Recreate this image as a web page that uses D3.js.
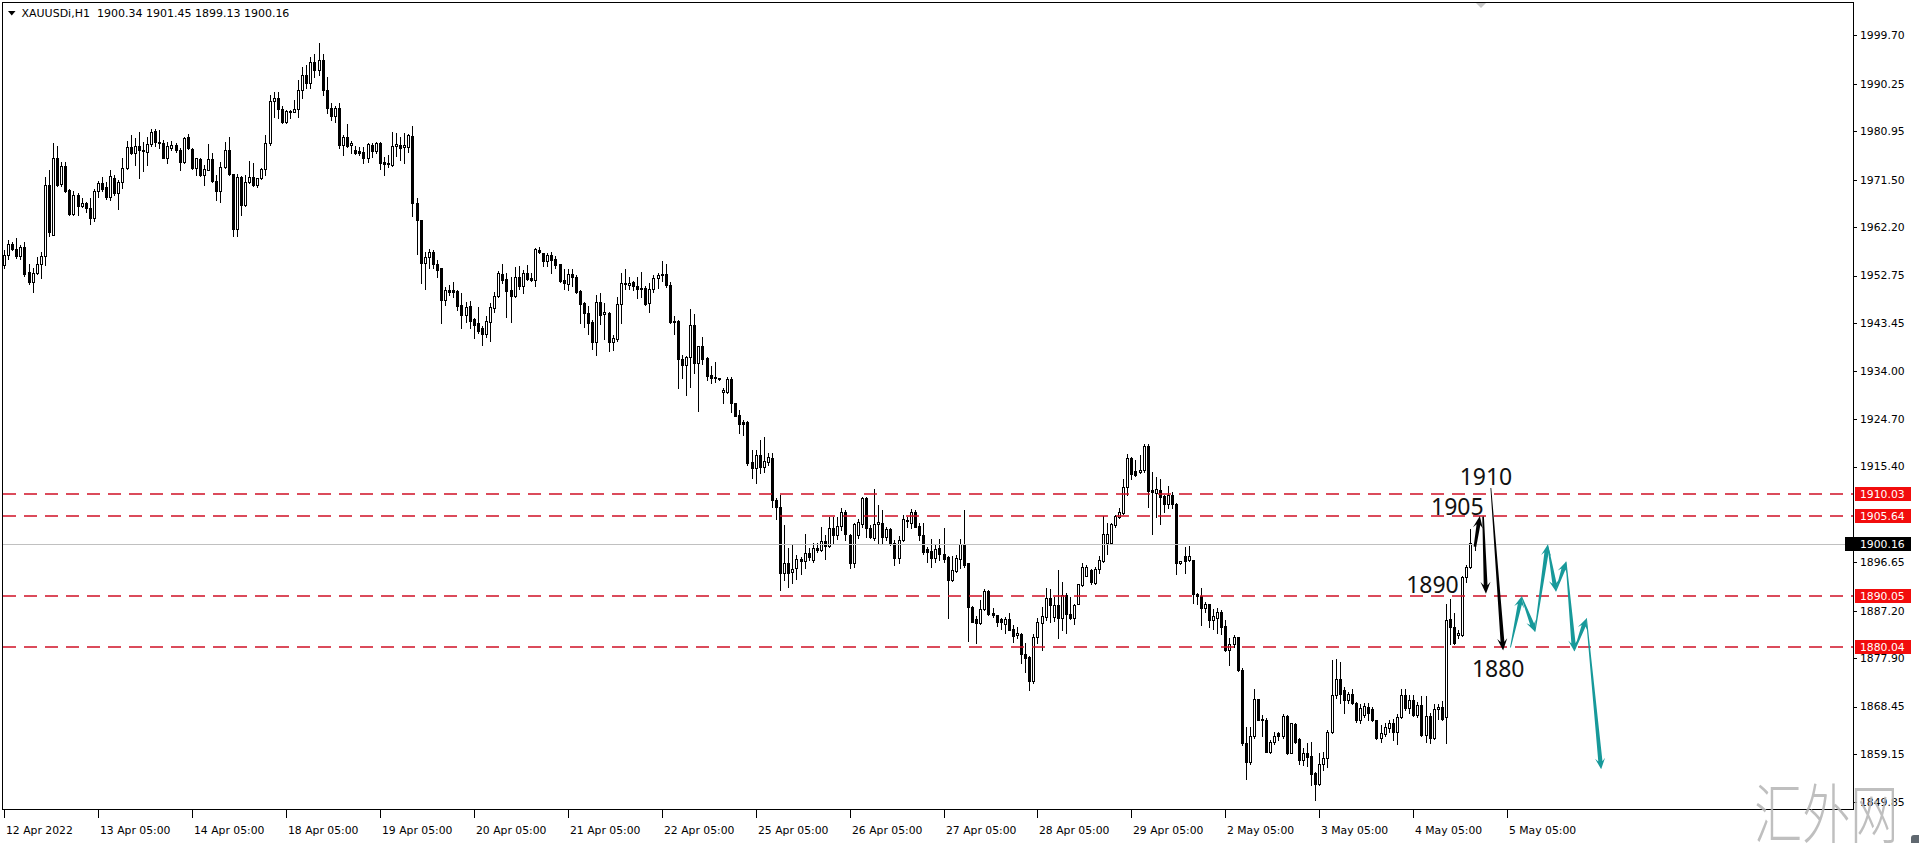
<!DOCTYPE html>
<html><head><meta charset="utf-8">
<script src="https://cdn.jsdelivr.net/npm/d3@7"></script>
<style>html,body{margin:0;padding:0;background:#fff;overflow:hidden}</style>
</head><body>
<svg id="c" width="1919" height="843"></svg>
<script>
// ---- H1 candles (XAUUSDi) ----
const opens=[
1954.8,1956.8,1959.0,1957.9,1956.5,1958.3,1953.4,1951.4,1953.2,1955.1,
1956.6,1970.5,1960.7,1975.7,1970.6,1974.2,1969.5,1964.8,1968.6,1966.4,
1966.9,1965.9,1964.1,1969.2,1970.8,1970.1,1968.2,1971.9,1968.8,1971.0,
1973.7,1977.9,1976.7,1978.0,1977.4,1977.0,1978.4,1981.0,1978.9,1978.6,
1975.8,1977.6,1978.3,1977.3,1974.9,1979.8,1977.5,1973.7,1975.5,1972.4,
1973.4,1975.5,1971.2,1969.2,1974.0,1977.3,1972.6,1961.9,1972.1,1966.5,
1971.1,1972.0,1970.5,1971.8,1973.5,1978.6,1986.9,1987.4,1985.3,1982.7,
1984.9,1984.7,1985.3,1989.0,1992.0,1990.5,1994.5,1993.0,1995.0,1989.0,
1985.5,1984.0,1985.5,1978.3,1979.9,1978.3,1977.3,1977.1,1977.0,1975.8,
1978.3,1977.2,1978.7,1975.0,1974.8,1974.4,1978.0,1978.2,1977.8,1977.8,
1980.0,1967.0,1963.7,1955.3,1956.4,1957.4,1955.1,1954.2,1948.0,1949.9,
1949.9,1949.7,1947.0,1945.0,1946.8,1944.2,1943.4,1942.4,1941.3,1943.7,
1946.5,1948.7,1953.0,1952.0,1949.9,1948.7,1952.4,1950.7,1953.2,1952.2,
1951.9,1957.8,1957.1,1955.5,1956.8,1955.9,1955.0,1951.9,1951.1,1953.0,
1952.5,1949.8,1947.3,1945.5,1943.7,1939.8,1947.6,1945.2,1945.4,1939.8,
1940.3,1947.2,1951.2,1950.9,1951.4,1950.7,1950.1,1950.4,1947.3,1950.2,
1952.2,1952.9,1953.0,1950.9,1943.9,1943.9,1936.4,1935.3,1936.9,1943.1,
1935.7,1939.0,1936.6,1933.3,1933.0,1932.7,1929.9,1930.0,1932.6,1927.8,
1925.5,1924.2,1924.2,1916.3,1915.2,1917.6,1915.4,1916.3,1917.0,1908.8,
1907.5,1894.5,1896.6,1894.8,1895.5,1897.4,1897.0,1898.4,1897.1,1899.4,
1899.1,1900.9,1899.9,1903.3,1902.0,1903.8,1906.6,1902.0,1896.5,1902.0,
1904.2,1909.2,1903.3,1901.4,1904.2,1904.4,1901.6,1903.1,1900.4,1897.6,
1901.0,1904.8,1904.3,1906.6,1903.7,1902.0,1899.2,1898.9,1897.6,1899.4,
1898.3,1897.7,1893.2,1895.0,1897.4,1900.2,1896.5,1888.0,1885.5,1884.7,
1887.5,1891.1,1886.7,1886.4,1885.5,1884.6,1885.5,1883.7,1882.4,1882.6,
1878.7,1878.2,1873.5,1882.0,1884.7,1886.0,1889.6,1886.0,1888.3,1885.7,
1890.3,1886.6,1885.7,1888.6,1892.2,1894.0,1895.2,1892.7,1895.3,1897.0,
1900.4,1900.5,1904.0,1905.5,1906.4,1911.3,1917.0,1914.6,1914.4,1914.7,
1919.4,1910.9,1910.2,1910.9,1909.6,1908.1,1909.8,1908.1,1896.5,1897.9,
1897.1,1897.1,1890.4,1890.1,1887.7,1888.5,1885.4,1885.7,1887.0,1884.2,
1879.5,1880.7,1882.0,1875.7,1861.3,1857.7,1862.6,1869.9,1866.1,1865.9,
1859.6,1861.6,1863.3,1862.7,1866.6,1859.4,1865.1,1862.2,1858.1,1859.3,
1858.8,1855.5,1853.3,1857.3,1858.3,1863.5,1870.7,1873.9,1871.7,1869.7,
1871.0,1869.2,1865.9,1866.8,1868.4,1867.9,1865.8,1862.4,1863.1,1864.2,
1865.3,1863.5,1866.5,1870.7,1868.1,1869.7,1866.8,1868.7,1862.9,1866.6,
1862.4,1867.9,1868.4,1866.5,1885.5,1884.1,1882.4,1882.4,1893.7,1895.7,1900.34];
const highs=[
1957.8,1959.7,1959.4,1960.0,1958.8,1959.4,1955.1,1954.2,1956.4,1957.3,
1972.1,1973.4,1978.6,1978.0,1975.0,1975.0,1969.7,1969.2,1968.8,1967.9,
1967.2,1967.9,1969.7,1971.2,1972.1,1971.1,1973.4,1972.4,1971.4,1975.7,
1979.1,1980.2,1979.6,1980.8,1978.9,1979.9,1981.5,1981.5,1981.3,1979.3,
1978.9,1979.1,1978.6,1977.6,1979.9,1980.5,1977.6,1975.8,1975.7,1974.4,
1978.5,1976.7,1972.4,1975.0,1978.9,1979.9,1972.7,1972.7,1972.3,1972.4,
1975.2,1974.7,1971.9,1973.7,1980.2,1988.1,1988.7,1988.6,1986.0,1985.1,
1985.1,1987.1,1991.0,1993.5,1994.0,1995.5,1996.0,1998.3,1996.0,1991.5,
1986.5,1986.0,1986.5,1980.2,1982.4,1979.1,1978.0,1977.8,1977.9,1978.7,
1978.6,1978.9,1978.9,1976.0,1976.3,1980.9,1980.7,1979.8,1980.7,1980.4,
1982.0,1968.0,1963.7,1957.4,1958.0,1957.7,1955.8,1954.2,1950.6,1950.9,
1951.5,1950.0,1949.3,1947.6,1947.8,1944.4,1946.6,1942.8,1944.8,1947.3,
1949.6,1953.7,1955.1,1953.2,1952.5,1954.5,1954.6,1953.8,1954.8,1953.2,
1958.1,1958.4,1957.2,1957.2,1957.4,1956.6,1955.1,1954.0,1954.0,1954.0,
1952.9,1949.9,1947.6,1946.7,1944.0,1948.9,1949.4,1947.3,1945.7,1941.1,
1948.6,1953.2,1954.0,1952.5,1951.6,1952.5,1953.5,1950.7,1951.2,1952.9,
1953.2,1955.5,1955.0,1951.4,1944.8,1944.0,1937.2,1937.0,1946.3,1945.2,
1939.0,1940.7,1936.8,1935.1,1935.9,1932.8,1930.7,1933.0,1933.0,1927.9,
1926.5,1924.5,1924.4,1918.6,1918.6,1920.6,1921.1,1918.0,1918.0,1909.2,
1909.8,1903.9,1899.4,1900.0,1898.1,1897.7,1902.3,1899.4,1900.4,1900.4,
1903.6,1902.0,1905.6,1905.6,1905.6,1907.2,1906.9,1902.2,1904.4,1905.1,
1909.5,1909.4,1903.9,1911.1,1907.9,1906.9,1903.6,1903.3,1901.0,1901.8,
1905.9,1905.5,1907.0,1906.9,1904.4,1904.4,1899.7,1901.2,1900.0,1901.3,
1903.3,1897.9,1897.9,1898.1,1901.2,1906.8,1896.6,1888.1,1886.2,1889.2,
1891.4,1891.2,1887.7,1886.4,1885.7,1885.9,1886.7,1884.4,1884.0,1882.8,
1880.8,1878.3,1882.6,1885.7,1887.9,1891.6,1891.4,1889.9,1895.2,1892.9,
1890.6,1889.9,1888.6,1892.5,1896.5,1896.1,1895.3,1895.8,1897.9,1905.7,
1904.3,1904.4,1905.9,1907.2,1912.9,1917.8,1917.3,1916.7,1917.6,1919.8,
1919.8,1914.4,1913.4,1912.9,1909.8,1911.6,1910.5,1908.2,1897.0,1899.6,
1899.8,1897.2,1890.6,1891.6,1889.0,1888.6,1887.5,1887.7,1887.3,1885.4,
1881.8,1882.4,1882.1,1875.9,1864.4,1864.5,1871.8,1870.0,1866.8,1866.3,
1861.9,1863.5,1863.5,1867.0,1866.8,1865.3,1865.2,1862.4,1860.3,1861.3,
1861.6,1855.7,1859.4,1859.6,1863.9,1877.6,1877.7,1877.2,1872.3,1871.3,
1871.8,1869.4,1868.9,1869.2,1869.2,1868.3,1865.9,1864.8,1865.2,1865.9,
1866.1,1867.0,1871.8,1871.8,1870.7,1870.7,1869.4,1870.5,1870.5,1867.1,
1868.9,1868.9,1869.6,1888.6,1889.4,1886.7,1883.5,1893.9,1896.1,1903.1,1901.45];
const lows=[
1954.2,1956.0,1957.7,1956.1,1956.0,1952.7,1951.0,1949.6,1953.0,1952.3,
1954.8,1960.4,1960.7,1970.3,1970.3,1969.0,1964.6,1964.6,1964.5,1966.2,
1965.2,1962.8,1963.4,1968.2,1969.2,1967.7,1967.5,1968.5,1965.8,1969.9,
1973.6,1976.5,1974.4,1971.8,1973.1,1974.4,1978.0,1978.0,1977.6,1975.7,
1974.7,1977.3,1977.0,1973.4,1974.7,1977.5,1973.5,1972.5,1972.2,1970.5,
1973.4,1971.1,1967.5,1967.2,1973.8,1972.5,1960.4,1960.4,1964.6,1966.4,
1970.8,1970.3,1970.1,1971.6,1972.5,1978.3,1983.8,1983.5,1982.5,1982.5,
1983.5,1984.7,1983.7,1987.5,1989.5,1989.5,1991.5,1992.0,1988.0,1984.5,
1983.2,1982.7,1977.6,1976.3,1977.9,1976.7,1976.6,1976.3,1974.7,1975.0,
1976.0,1976.7,1973.5,1972.5,1973.9,1974.2,1976.1,1975.4,1974.7,1977.0,
1964.4,1956.9,1951.2,1950.2,1954.3,1954.2,1952.5,1943.4,1947.0,1948.9,
1948.6,1946.0,1942.4,1943.7,1942.4,1940.5,1941.6,1939.2,1940.8,1940.0,
1945.7,1948.6,1951.2,1944.6,1943.7,1948.6,1950.2,1949.3,1951.9,1951.7,
1950.7,1957.1,1954.6,1954.6,1953.3,1954.2,1951.4,1950.2,1949.9,1950.7,
1949.4,1943.4,1942.6,1941.4,1938.3,1937.2,1943.3,1940.3,1937.9,1938.2,
1940.0,1943.4,1950.1,1950.1,1949.9,1948.4,1948.6,1947.0,1945.7,1949.6,
1950.4,1951.6,1950.6,1943.5,1941.3,1930.7,1932.7,1929.4,1931.0,1933.6,
1926.3,1935.5,1932.3,1931.7,1932.0,1932.3,1927.9,1929.7,1926.1,1925.2,
1921.9,1921.6,1915.7,1913.1,1912.1,1914.2,1914.4,1915.7,1907.5,1905.1,
1891.2,1893.2,1891.8,1892.6,1893.5,1894.4,1895.5,1897.1,1896.8,1898.6,
1898.9,1897.4,1899.6,1900.4,1901.2,1903.0,1901.0,1895.5,1895.8,1901.5,
1903.6,1901.7,1901.5,1901.0,1900.4,1900.2,1901.0,1900.0,1896.1,1896.5,
1900.9,1903.6,1903.3,1903.5,1901.0,1898.3,1896.8,1895.8,1896.8,1897.2,
1896.8,1885.7,1893.1,1894.8,1895.5,1895.7,1881.3,1885.0,1880.9,1884.6,
1887.3,1886.4,1885.9,1884.2,1883.7,1882.8,1883.4,1881.1,1881.8,1876.9,
1875.3,1871.7,1873.0,1880.8,1879.6,1885.4,1885.0,1885.2,1881.8,1883.4,
1882.9,1885.5,1884.6,1888.5,1892.1,1893.9,1892.5,1892.5,1894.6,1896.8,
1898.3,1900.2,1903.6,1905.3,1906.2,1909.8,1912.9,1913.5,1914.2,1914.4,
1907.5,1902.3,1905.6,1904.2,1906.6,1907.2,1907.2,1894.4,1896.3,1894.5,
1897.0,1888.8,1888.6,1884.4,1887.0,1884.1,1883.7,1882.8,1882.6,1879.4,
1876.6,1880.2,1875.5,1860.9,1854.2,1857.3,1862.4,1865.9,1862.6,1859.6,
1859.4,1861.1,1861.9,1862.4,1859.2,1859.3,1861.4,1857.3,1857.0,1856.8,
1853.1,1850.2,1853.1,1856.0,1856.7,1863.2,1870.2,1869.1,1867.1,1869.2,
1868.9,1865.5,1865.2,1866.5,1865.8,1865.7,1862.2,1861.6,1862.6,1863.5,
1862.0,1861.1,1866.3,1867.8,1867.1,1866.6,1866.5,1862.7,1861.6,1861.3,
1862.2,1866.1,1865.8,1861.3,1880.7,1880.7,1881.8,1882.2,1892.9,1895.5,1899.13];
const closes=[
1956.8,1959.0,1957.9,1956.5,1958.3,1953.0,1951.4,1953.2,1955.1,1956.6,
1970.5,1961.3,1975.8,1970.5,1974.2,1969.3,1964.8,1968.6,1966.4,1966.9,
1965.9,1964.1,1969.3,1970.8,1969.7,1968.2,1972.2,1968.8,1971.1,1973.7,
1977.9,1976.7,1978.0,1977.4,1977.2,1978.4,1980.9,1978.9,1978.6,1975.8,
1978.0,1978.3,1977.3,1974.9,1979.7,1977.6,1973.7,1975.7,1972.4,1973.5,
1975.5,1971.2,1969.2,1974.0,1977.3,1972.6,1961.9,1972.1,1966.5,1971.1,
1972.0,1970.5,1971.8,1973.5,1978.6,1986.9,1987.4,1985.3,1982.7,1984.9,
1984.7,1985.3,1989.0,1992.0,1990.5,1994.5,1993.0,1995.0,1989.0,1985.5,
1984.0,1985.5,1978.3,1979.9,1978.1,1978.7,1976.8,1976.7,1975.8,1978.4,
1977.2,1978.7,1974.8,1974.6,1974.6,1978.1,1978.4,1977.6,1978.3,1980.2,
1967.0,1963.6,1955.3,1956.4,1957.4,1955.1,1953.9,1948.0,1950.0,1949.6,
1949.6,1946.8,1945.0,1946.6,1943.9,1943.1,1942.0,1941.3,1943.9,1946.6,
1948.7,1953.2,1951.9,1949.8,1948.7,1952.4,1950.7,1953.3,1952.0,1951.9,
1957.9,1957.4,1955.5,1956.8,1955.8,1954.8,1951.6,1951.2,1953.0,1952.5,
1949.6,1947.2,1945.4,1943.5,1939.8,1947.6,1945.0,1945.7,1939.8,1940.5,
1947.2,1951.2,1951.0,1951.2,1950.8,1950.1,1950.4,1947.2,1950.2,1952.2,
1952.9,1953.0,1950.9,1943.7,1943.7,1936.4,1935.3,1936.9,1943.1,1935.7,
1939.0,1936.4,1933.1,1932.7,1932.7,1932.6,1930.3,1932.6,1927.8,1925.3,
1923.8,1923.8,1916.0,1915.2,1917.6,1915.4,1916.5,1917.3,1908.8,1907.4,
1894.5,1896.6,1894.6,1895.4,1897.4,1897.0,1898.4,1897.8,1899.4,1899.1,
1900.9,1899.9,1903.3,1902.0,1903.8,1906.6,1902.3,1896.5,1904.2,1904.6,
1909.2,1903.3,1901.6,1904.2,1904.6,1901.7,1903.1,1900.2,1897.6,1901.0,
1905.1,1905.0,1906.6,1903.6,1902.0,1898.7,1898.7,1897.6,1899.2,1898.3,
1897.4,1893.2,1895.2,1897.6,1900.2,1896.1,1887.9,1885.0,1884.7,1887.5,
1891.1,1886.5,1886.4,1884.9,1884.9,1885.5,1883.5,1882.2,1882.9,1878.7,
1877.9,1873.5,1882.1,1884.9,1886.2,1889.6,1888.3,1888.3,1885.7,1890.3,
1886.6,1885.7,1888.3,1892.4,1895.8,1895.8,1892.9,1895.3,1897.1,1902.3,
1902.3,1904.2,1905.7,1906.6,1911.3,1917.0,1913.9,1913.7,1914.8,1919.4,
1910.7,1910.5,1911.1,1909.5,1908.1,1909.8,1908.1,1896.5,1897.0,1897.0,
1897.9,1890.4,1890.0,1887.7,1888.5,1885.4,1886.2,1887.0,1884.1,1879.5,
1880.7,1882.0,1875.6,1861.3,1857.7,1862.7,1869.9,1865.9,1865.9,1859.6,
1861.6,1862.7,1862.7,1866.6,1859.4,1865.2,1861.6,1858.1,1859.4,1858.6,
1855.2,1853.3,1857.3,1858.3,1863.5,1870.7,1873.9,1871.0,1869.7,1871.0,
1869.2,1865.9,1868.1,1868.6,1867.1,1865.8,1862.4,1863.2,1864.5,1865.3,
1863.5,1866.5,1870.7,1868.1,1869.7,1866.8,1868.7,1862.9,1866.6,1862.4,
1867.9,1868.4,1866.0,1885.4,1884.1,1880.9,1882.9,1893.8,1895.7,1900.4,1900.16];

// ---- axes ----
const dateTickBars=[0,23,46,69,92,115,138,161,184,207,230,253,276,299,322,345,368];
const dateLabels=["12 Apr 2022","13 Apr 05:00","14 Apr 05:00","18 Apr 05:00","19 Apr 05:00","20 Apr 05:00","21 Apr 05:00","22 Apr 05:00","25 Apr 05:00","26 Apr 05:00","27 Apr 05:00","28 Apr 05:00","29 Apr 05:00","2 May 05:00","3 May 05:00","4 May 05:00","5 May 05:00"];
const priceTicks=[1999.70,1990.25,1980.95,1971.50,1962.20,1952.75,1943.45,1934.00,1924.70,1915.40,1896.65,1887.20,1877.90,1868.45,1859.15,1849.85];

// ---- levels & annotations ----
const levels=[1910.03,1905.64,1890.05,1880.04];
const bidPrice=1900.16;
const headerText="XAUUSDi,H1  1900.34 1901.45 1899.13 1900.16";
const blackArrowFrom=[[360.1,1899.7],[362.1,1905.6],[364.0,1911.2]];
const blackArrowTo  =[[361.3,1905.7],[362.8,1890.5],[367.0,1879.4]];
const tealBars  =[368.8,371.5,374.8,377.9,379.9,382.4,384.4,387.4,391.0];
const tealPrices=[1880.0,1890.0,1883.1,1900.1,1891.0,1896.8,1879.3,1885.7,1856.2];
const noteTexts=["1910","1905","1890","1880"];
const noteBars=[362.8,355.8,349.7,365.8];
const notePrices=[1911.8,1905.9,1890.7,1874.3];

const svg=d3.select("#c");
const L=2.5,T=2.5,R=1853.5,B=809.5;
const x=d3.scaleLinear().domain([0,368]).range([4,1507.2]);
const y=d3.scaleLinear().domain([1848.42,2006.25]).range([809,2]);
const AX="'DejaVu Sans', Verdana, sans-serif";

const plot=svg.append("g");
// candles
const idx=d3.range(closes.length);
const cg=plot.append("g").attr("shape-rendering","crispEdges");
cg.selectAll("line.wick").data(idx).join("line").attr("class","wick")
  .attr("x1",i=>Math.round(x(i))+0.5).attr("x2",i=>Math.round(x(i))+0.5)
  .attr("y1",i=>Math.round(y(highs[i]))).attr("y2",i=>Math.round(y(lows[i]))+1)
  .attr("stroke","#000").attr("stroke-width",1);
cg.selectAll("rect.body").data(idx).join("rect").attr("class","body")
  .each(function(i){
    const cx=Math.round(x(i));
    const t=Math.round(y(Math.max(opens[i],closes[i])));
    const b=Math.round(y(Math.min(opens[i],closes[i])));
    const s=d3.select(this);
    if(closes[i]>=opens[i]){
      s.attr("x",cx-0.5).attr("y",t+0.5).attr("width",2).attr("height",Math.max(0,b-t))
       .attr("fill","#fff").attr("stroke","#000").attr("stroke-width",1);
    } else {
      s.attr("x",cx-1).attr("y",t).attr("width",3).attr("height",Math.max(1,b-t+1))
       .attr("fill","#000");
    }
  });

// bid line
plot.append("line").attr("class","bid").attr("x1",3).attr("x2",1845)
  .attr("y1",Math.round(y(bidPrice))+0.5).attr("y2",Math.round(y(bidPrice))+0.5)
  .attr("stroke","#c0c0c0").attr("stroke-width",1).attr("shape-rendering","crispEdges");
// level lines (red dashed)
plot.selectAll("line.lv").data(levels).join("line").attr("class","lv")
  .attr("x1",3).attr("x2",R)
  .attr("y1",d=>Math.round(y(d))).attr("y2",d=>Math.round(y(d)))
  .attr("stroke","#cf1126").attr("stroke-width",1.4).attr("stroke-dasharray","13,8");

// arrows
function arrowPoly(x0,y0,x1,y1,w0,w1,hl,hw){
  const dx=x1-x0,dy=y1-y0,len=Math.hypot(dx,dy),ux=dx/len,uy=dy/len,nx=-uy,ny=ux;
  const bx=x1-ux*hl*0.72,by=y1-uy*hl*0.72, cx=x1-ux*hl,cy=y1-uy*hl;
  return [[x0+nx*w0/2,y0+ny*w0/2],[bx+nx*w1/2,by+ny*w1/2],[cx+nx*hw/2,cy+ny*hw/2],[x1,y1],
          [cx-nx*hw/2,cy-ny*hw/2],[bx-nx*w1/2,by-ny*w1/2],[x0-nx*w0/2,y0-ny*w0/2]];
}
const lineGen=d3.line();
const blackW0=[2.6,1.6,0.8];
blackArrowFrom.forEach((p,k)=>{
  const q=blackArrowTo[k];
  plot.append("path").attr("d",lineGen(arrowPoly(x(p[0]),y(p[1]),x(q[0]),y(q[1]),blackW0[k],3.8,12,10))+"Z")
    .attr("fill","#000");
});
for(let k=0;k<tealBars.length-1;k++){
  plot.append("path").attr("d",lineGen(arrowPoly(x(tealBars[k]),y(tealPrices[k]),x(tealBars[k+1]),y(tealPrices[k+1]),0.9,4.2,11,10))+"Z")
    .attr("fill","#17999a");
}
// note labels
plot.selectAll("text.note").data(noteTexts).join("text").attr("class","note")
  .attr("x",(d,i)=>x(noteBars[i])).attr("y",(d,i)=>y(notePrices[i]))
  .attr("text-anchor","middle").attr("font-family","'Noto Sans', 'Open Sans', sans-serif")
  .attr("font-size",23).attr("fill","#111").text(d=>d);

// frame
svg.append("rect").attr("x",L).attr("y",T).attr("width",R-L).attr("height",B-T)
  .attr("fill","none").attr("stroke","#000").attr("stroke-width",1).attr("shape-rendering","crispEdges");

// right axis ticks & labels
const ax=svg.append("g");
ax.selectAll("line.pt").data(priceTicks).join("line").attr("class","pt")
  .attr("x1",1853).attr("x2",1857).attr("y1",d=>Math.round(y(d))+0.5).attr("y2",d=>Math.round(y(d))+0.5)
  .attr("stroke","#000").attr("shape-rendering","crispEdges");
ax.selectAll("text.pt").data(priceTicks).join("text").attr("class","pt")
  .attr("x",1860).attr("y",d=>y(d)).attr("dy","0.36em")
  .attr("font-family",AX).attr("font-size",10.8).attr("fill","#000").text(d=>d.toFixed(2));
// level boxes
levels.forEach(v=>{
  const yy=Math.round(y(v));
  ax.append("rect").attr("x",1855).attr("y",yy-7).attr("width",56).attr("height",14).attr("fill","#f20d0d");
  ax.append("text").attr("x",1860).attr("y",yy).attr("dy","0.36em").attr("font-family",AX)
    .attr("font-size",10.8).attr("fill","#fff").text(v.toFixed(2));
});
{
  const yy=Math.round(y(bidPrice));
  ax.append("rect").attr("x",1845).attr("y",yy-7).attr("width",66).attr("height",14).attr("fill","#000");
  ax.append("text").attr("x",1860).attr("y",yy).attr("dy","0.36em").attr("font-family",AX)
    .attr("font-size",10.8).attr("fill","#fff").text(bidPrice.toFixed(2));
}
// bottom axis
ax.selectAll("line.dt").data(dateTickBars).join("line").attr("class","dt")
  .attr("x1",d=>Math.round(x(d))+0.5).attr("x2",d=>Math.round(x(d))+0.5).attr("y1",810).attr("y2",818)
  .attr("stroke","#000").attr("shape-rendering","crispEdges");
ax.selectAll("text.dt").data(dateLabels).join("text").attr("class","dt")
  .attr("x",(d,i)=>Math.round(x(dateTickBars[i]))+2).attr("y",834)
  .attr("font-family",AX).attr("font-size",10.8).attr("fill","#000").text(d=>d);

// header
svg.append("path").attr("d","M8,11 L15.5,11 L11.75,15.5 Z").attr("fill","#000");
svg.append("text").attr("x",21.5).attr("y",17).attr("font-family",AX).attr("font-size",11)
  .attr("fill","#000").style("white-space","pre").text(headerText);
// shift marker
svg.append("path").attr("d","M1476,3 L1486,3 L1481,8 Z").attr("fill","#c8c8c8");
// watermark
svg.append("text").attr("transform","translate(1754,838) scale(0.86,1.16)")
  .attr("font-family","'Noto Sans CJK SC', sans-serif")
  .attr("font-size",56).attr("font-weight",300).attr("fill","#b4b4b4").attr("opacity",0.85).text("汇外网");
svg.append("rect").attr("x",1911).attr("y",835).attr("width",12).attr("height",12).attr("rx",3).attr("fill","#606870");
</script>
</body></html>
